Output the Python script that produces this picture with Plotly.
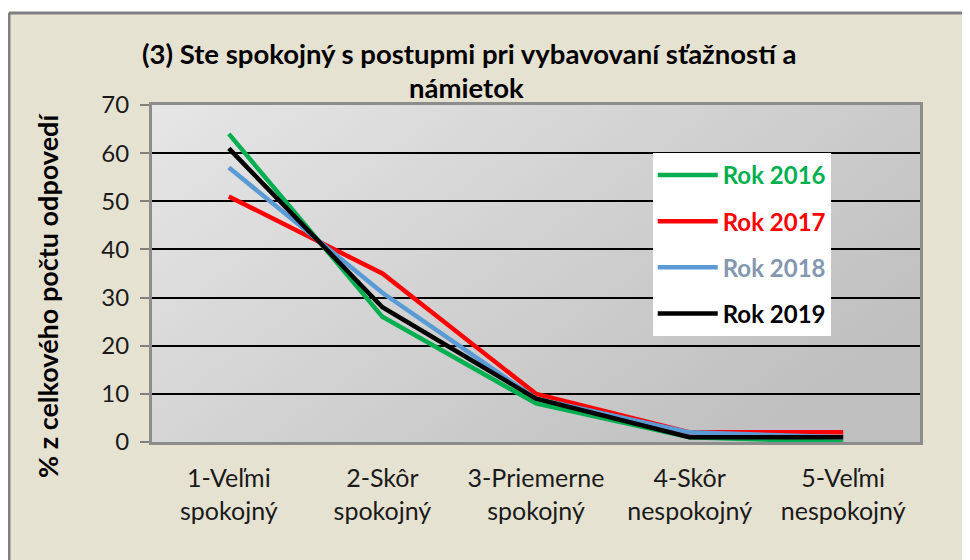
import base64
import plotly.graph_objects as go

categories = ["1-Veľmi<br>spokojný", "2-Skôr<br>spokojný", "3-Priemerne<br>spokojný",
              "4-Skôr<br>nespokojný", "5-Veľmi<br>nespokojný"]
rok_2016 = [64, 26, 8, 1, 0]
rok_2017 = [51, 35, 10, 2, 2]
rok_2018 = [57, 31, 9, 2, 1]
rok_2019 = [61, 28, 9, 1, 1]
series_names = ["Rok 2016", "Rok 2017", "Rok 2018", "Rok 2019"]
series_values = [rok_2016, rok_2017, rok_2018, rok_2019]
line_colors = ["#00B050", "#FF0000", "#5B9BD5", "#000000"]
text_colors = ["#00B050", "#FF0000", "#8497B0", "#000000"]
y_ticks = [0, 10, 20, 30, 40, 50, 60, 70]

FONT = "Lato"

fig = go.Figure()
for i, (name, vals) in enumerate(zip(series_names, series_values)):
    fig.add_trace(go.Scatter(
        x=list(range(len(categories))), y=vals, mode="lines",
        name=f"<b><span style='color:{text_colors[i]}'>{name}</span></b>",
        legendgroup=f"g{i}",
        line=dict(color=line_colors[i], width=4.5),
    ))

svg = ('<svg xmlns="http://www.w3.org/2000/svg" width="100" height="100" preserveAspectRatio="none">'
       '<defs><linearGradient id="g" x1="0" y1="0" x2="1" y2="0.6">'
       '<stop offset="0" stop-color="#E6E6E6"/><stop offset="1" stop-color="#C0C0C0"/>'
       '</linearGradient></defs><rect width="100" height="100" fill="url(#g)"/></svg>')
svg_uri = "data:image/svg+xml;base64," + base64.b64encode(svg.encode()).decode()

# page body has an 8px margin, so margins are reduced by 8 to land the plot area at 152..920 x 105..442
fig.update_layout(
    width=970, height=560,
    margin=dict(l=144, r=58, t=97, b=126),
    paper_bgcolor="#E6E2D2",
    plot_bgcolor="rgba(0,0,0,0)",
    font=dict(family=FONT, size=22, color="#1A1A1A"),
    images=[dict(source=svg_uri, xref="x domain", yref="y domain", x=0, y=1,
                 sizex=1, sizey=1, sizing="stretch", layer="below", xanchor="left", yanchor="top")],
    xaxis=dict(
        tickmode="array", tickvals=list(range(len(categories))), ticktext=categories,
        range=[-0.5, len(categories) - 0.5], showgrid=False, zeroline=False,
        showline=True, mirror=True, linecolor="#8C8C8C", linewidth=3,
        ticks="", ticklabelstandoff=12,
        tickfont=dict(family=FONT, size=25, color="#1A1A1A"),
    ),
    yaxis=dict(
        range=[0, 70], tickmode="array", tickvals=y_ticks,
        showgrid=True, gridcolor="#000000", gridwidth=1.5, zeroline=False,
        showline=True, mirror=True, linecolor="#8C8C8C", linewidth=3,
        ticks="outside", ticklen=9, tickcolor="#808080", tickwidth=1.5,
        ticklabelstandoff=6,
        tickfont=dict(family=FONT, size=24, color="#1A1A1A"),
    ),
    legend=dict(
        x=0.652, y=0.858, xanchor="left", yanchor="top",
        bgcolor="#FFFFFF", borderwidth=0, tracegroupgap=12, itemwidth=60,
        font=dict(family=FONT, size=24),
    ),
    showlegend=True,
    annotations=[
        dict(text="<b>(3) Ste spokojný s postupmi pri vybavovaní sťažností a</b>",
             xref="paper", yref="paper", x=(469 - 152) / 768, y=(442 - 53) / 337,
             xanchor="center", yanchor="middle", showarrow=False,
             font=dict(family=FONT, size=27.5, color="#000000")),
        dict(text="<b>námietok</b>",
             xref="paper", yref="paper", x=(466 - 152) / 768, y=(442 - 88) / 337,
             xanchor="center", yanchor="middle", showarrow=False,
             font=dict(family=FONT, size=27.5, color="#000000")),
        dict(text="<b>% z celkového počtu odpovedí</b>", textangle=-90,
             xref="paper", yref="paper", x=(47 - 152) / 768, y=(442 - 296) / 337,
             xanchor="center", yanchor="middle", showarrow=False,
             font=dict(family=FONT, size=27, color="#000000")),
    ],
    shapes=[
        dict(type="rect", xref="paper", yref="paper",
             x0=-1, x1=2, y0=(442 - 12) / 337, y1=2,
             fillcolor="#FFFFFF", line=dict(width=0), layer="above"),
        dict(type="rect", xref="paper", yref="paper",
             x0=-1, x1=(8 - 152) / 768, y0=-1, y1=2,
             fillcolor="#FFFFFF", line=dict(width=0), layer="above"),
        dict(type="line", xref="paper", yref="paper",
             x0=(9 - 152) / 768, x1=2, y0=(442 - 13) / 337, y1=(442 - 13) / 337,
             line=dict(color="#7F7F7F", width=3), layer="above"),
        dict(type="line", xref="paper", yref="paper",
             x0=(9 - 152) / 768, x1=(9 - 152) / 768, y0=-1, y1=(442 - 13) / 337,
             line=dict(color="#7F7F7F", width=3), layer="above"),
    ],
)

fig.write_html("out.html")
